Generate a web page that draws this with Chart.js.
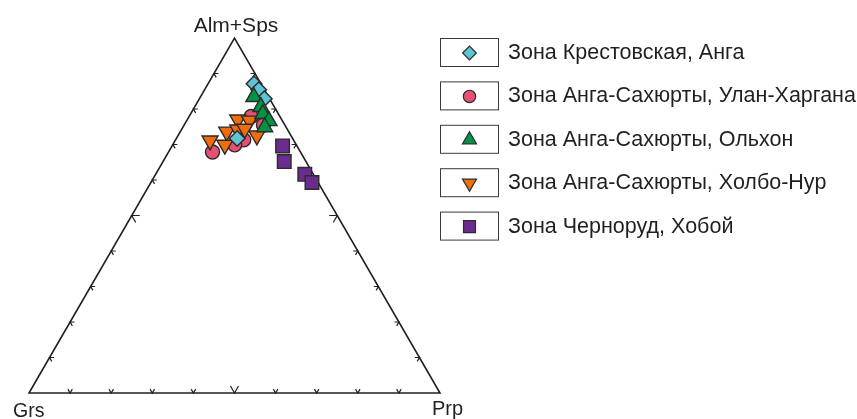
<!DOCTYPE html>
<html>
<head>
<meta charset="utf-8">
<script src="https://cdn.jsdelivr.net/npm/chart.js@4"></script>
<style>
  html, body { margin: 0; padding: 0; background: #fff; }
  canvas { display: block; }
</style>
</head>
<body>
<canvas id="ternary" width="857" height="419"></canvas>
<script>
// components: [Grs, Alm+Sps, Prp], %
const corners = ['Grs', 'Alm+Sps', 'Prp'];
const tickValues = [10, 20, 30, 40, 50, 60, 70, 80, 90];

const krestovskaya = [[1.7, 87.1, 11.2], [1.4, 85.4, 13.2], [1.3, 82.9, 15.8], [13.5, 71.7, 14.8]];
const ulanHargana = [[7.0, 77.9, 15.1], [5.2, 75.5, 19.3], [13.1, 71.3, 15.6], [12.1, 71.3, 16.6], [15.0, 69.9, 15.1], [21.4, 67.9, 10.7]];
const olkhon = [[3.6, 83.4, 13.0], [3.3, 80.6, 16.1], [3.8, 78.6, 17.6], [3.3, 76.6, 20.1], [5.2, 74.9, 19.9]];
const kholboNur = [[10.7, 77.0, 12.3], [8.0, 76.7, 15.3], [15.1, 73.6, 11.3], [20.4, 71.1, 8.5], [17.4, 69.9, 12.7], [12.1, 74.2, 13.7], [8.3, 72.5, 19.2], [10.3, 74.4, 15.3]];
const khoboy = [[3.5, 69.6, 26.9], [5.3, 65.2, 29.5], [2.1, 61.6, 36.3], [1.5, 59.3, 39.2]];

const H = Math.sqrt(3) / 2 * 100;

function toXY(t) {
  const s = t[0] + t[1] + t[2];
  const a = t[1] / s * 100, p = t[2] / s * 100;
  return { x: p + a / 2, y: a * Math.sqrt(3) / 2 };
}

const edge = '#231f20';
const markBorder = '#2b2b2b';

const datasets = [
  { label: 'Зона Крестовская, Анга', data: krestovskaya.map(toXY), pointStyle: 'rectRot', pointRadius: 7.8,
    backgroundColor: '#5ec3d2', order: 3 },
  { label: 'Зона Анга-Сахюрты, Улан-Харгана', data: ulanHargana.map(toXY), pointStyle: 'circle', pointRadius: 7,
    backgroundColor: '#e8506f', order: 5 },
  { label: 'Зона Анга-Сахюрты, Ольхон', data: olkhon.map(toXY), pointStyle: 'triangle', pointRadius: 9.2,
    backgroundColor: '#009444', order: 2 },
  { label: 'Зона Анга-Сахюрты, Холбо-Нур', data: kholboNur.map(toXY), pointStyle: 'triangle', pointRotation: 180, pointRadius: 9.2,
    backgroundColor: '#f06c0c', order: 4 },
  { label: 'Зона Черноруд, Хобой', data: khoboy.map(toXY), pointStyle: 'rect', pointRadius: 9.6,
    backgroundColor: '#6a2c8e', order: 1 }
];
datasets.forEach(d => {
  d.borderColor = markBorder;
  d.borderWidth = 1.4;
  d.pointBorderColor = markBorder;
  d.pointBackgroundColor = d.backgroundColor;
  d.pointBorderWidth = 1.4;
  d.pointHoverRadius = d.pointRadius;
  d.showLine = false;
  d.clip = false;
});

const ternaryFrame = {
  id: 'ternaryFrame',
  beforeDatasetsDraw(chart) {
    const ctx = chart.ctx, xs = chart.scales.x, ys = chart.scales.y;
    const px = (x, y) => [xs.getPixelForValue(x), ys.getPixelForValue(y)];
    const A = px(0, 0), B = px(100, 0), C = px(50, H);
    ctx.save();
    ctx.strokeStyle = edge;
    ctx.lineWidth = 1.6;
    ctx.lineJoin = 'miter';
    ctx.beginPath();
    ctx.moveTo(A[0], A[1]); ctx.lineTo(B[0], B[1]); ctx.lineTo(C[0], C[1]); ctx.closePath();
    ctx.stroke();

    // chevron ticks: arms run along the two other grid directions, inward
    const dirUL = [-0.5, -Math.sqrt(3) / 2], dirUR = [0.5, -Math.sqrt(3) / 2];
    const dirDR = [0.5, Math.sqrt(3) / 2], dirDL = [-0.5, Math.sqrt(3) / 2];
    const chevron = (p, d1, d2, len) => {
      ctx.beginPath();
      ctx.moveTo(p[0] + d1[0] * len, p[1] + d1[1] * len);
      ctx.lineTo(p[0], p[1]);
      ctx.lineTo(p[0] + d2[0] * len, p[1] + d2[1] * len);
      ctx.stroke();
    };
    ctx.lineWidth = 1.2;
    tickValues.forEach(t => {
      const len = t === 50 ? 8 : 4.5;
      chevron(px(t, 0), dirUL, dirUR, len);
      chevron(px(t / 2, t / 100 * H), [1, 0], dirDR, len);
      chevron(px(100 - t / 2, t / 100 * H), [-1, 0], dirDL, len);
    });

    ctx.fillStyle = edge;
    ctx.textBaseline = 'alphabetic';
    ctx.textAlign = 'center';
    ctx.font = '21px "Liberation Sans", Arial, sans-serif';
    ctx.fillText(corners[1], C[0] + 1.5, C[1] - 6);
    ctx.textAlign = 'left';
    ctx.font = '19.5px "Liberation Sans", Arial, sans-serif';
    ctx.fillText(corners[0], A[0] - 16, A[1] + 24);
    ctx.font = '20px "Liberation Sans", Arial, sans-serif';
    ctx.fillText(corners[2], B[0] - 8, B[1] + 22);
    ctx.restore();
  },
  afterDraw(chart) {
    const ctx = chart.ctx;
    const boxL = 440, boxW = 58, boxH = 28, top0 = 38, gap = 43.4;
    ctx.save();
    chart.data.datasets.forEach((d, i) => {
      const top = top0 + i * gap;
      ctx.strokeStyle = '#3a3a3a';
      ctx.lineWidth = 1;
      ctx.strokeRect(boxL + 0.5, top + 0.5, boxW, boxH);
      ctx.fillStyle = d.backgroundColor;
      ctx.strokeStyle = markBorder;
      ctx.lineWidth = 1.2;
      Chart.helpers.drawPoint(ctx, {
        pointStyle: d.pointStyle, radius: d.pointRadius * 0.88,
        rotation: d.pointRotation || 0, borderWidth: 1.2
      }, boxL + boxW / 2 + 0.5, top + boxH / 2 + 1);
      ctx.fillStyle = '#231f20';
      ctx.font = '21.5px "Liberation Sans", Arial, sans-serif';
      ctx.textAlign = 'left';
      ctx.textBaseline = 'middle';
      ctx.fillText(d.label, 508, top + boxH / 2 + 1);
    });
    ctx.restore();
  }
};

new Chart(document.getElementById('ternary'), {
  type: 'scatter',
  data: { datasets: datasets },
  options: {
    responsive: false,
    animation: false,
    layout: { padding: { left: 29, right: 417, top: 38, bottom: 26 } },
    scales: {
      x: { type: 'linear', min: 0, max: 100, display: false },
      y: { type: 'linear', min: 0, max: H, display: false }
    },
    plugins: { legend: { display: false }, tooltip: { enabled: false } }
  },
  plugins: [ternaryFrame]
});
</script>
</body>
</html>
